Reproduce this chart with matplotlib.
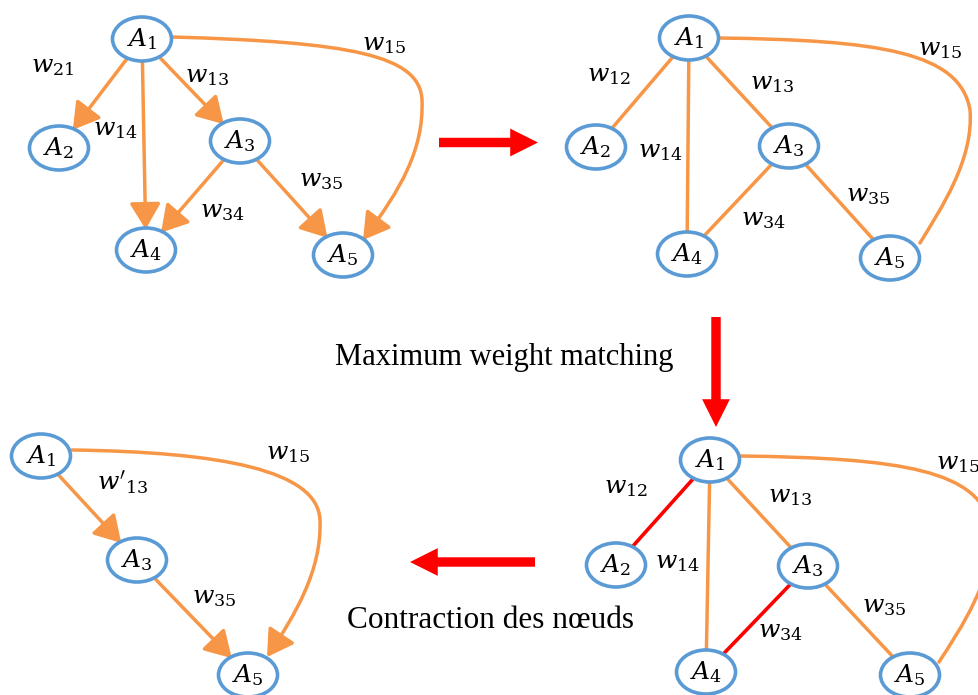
import matplotlib
matplotlib.use("Agg")
import matplotlib.pyplot as plt
from matplotlib.patches import Ellipse, FancyArrowPatch
from matplotlib.path import Path

plt.rcParams["mathtext.fontset"] = "dejavuserif"

# --- colours ---
nodeBlue = "#5B9BD5"
edgeOrange = "#F79646"
matchRed = "#FF0000"

# --- node positions (pixels, y downwards) ---
nodes_1 = {"1": (142, 39), "2": (59, 148), "3": (240, 141), "4": (146, 250), "5": (343, 255)}
nodes_2 = {"1": (689, 38), "2": (596, 147), "3": (789, 146), "4": (687, 254), "5": (890, 258)}
nodes_3 = {"1": (41, 456), "3": (137, 560), "5": (248, 675)}
nodes_4 = {"1": (710, 460), "2": (616, 565), "3": (808, 566), "4": (706, 672), "5": (910, 675)}

# --- straight edges ---
edges_1 = [("1", "2"), ("1", "3"), ("1", "4"), ("3", "4"), ("3", "5")]
edges_2 = [("1", "2"), ("1", "3"), ("1", "4"), ("3", "4"), ("3", "5")]
edges_3 = [("1", "3"), ("3", "5")]
edges_4 = [("1", "2"), ("1", "3"), ("1", "4"), ("3", "4"), ("3", "5")]
matched_4 = [("1", "2"), ("3", "4")]

# --- the long A1 - A5 edge, two cubic pieces each ---
curve_1 = [(172, 37), (350, 42), (420, 55), (422, 100), (424, 150), (400, 190), (363, 240)]
curve_2 = [(718, 38), (880, 40), (960, 52), (970, 110), (974, 160), (940, 210), (920, 243)]
curve_3 = [(72, 450), (220, 452), (318, 470), (320, 520), (322, 570), (295, 615), (267, 657)]
curve_4 = [(740, 456), (901, 458), (981, 470), (991, 528), (995, 578), (961, 628), (939, 662)]

# --- edge weight labels ---
labels_1 = [("21", (53, 66)), ("14", (115, 129)), ("13", (207, 76)),
            ("15", (384, 44)), ("35", (321, 180)), ("34", (222, 211))]
labels_2 = [("12", (609, 75)), ("14", (660, 151)), ("13", (772, 83)),
            ("15", (940, 49)), ("35", (868, 195)), ("34", (763, 219))]
labels_3 = [("15", (288, 453)), ("'13", (123, 482)), ("35", (214, 597))]
labels_4 = [("12", (626, 487)), ("14", (677, 562)), ("13", (790, 496)),
            ("15", (958, 463)), ("35", (884, 606)), ("34", (780, 631))]

# --- captions between the panels ---
captions = [("Maximum weight matching", (335, 365), 22), ("Contraction des nœuds", (347, 628), 22.5)]

# --- big red arrows (tail, tip) ---
bigArrows = [((439, 142.5), (538, 142.5)), ((716, 317), (716, 427)), ((535, 562), (410, 562))]


figure = plt.figure(figsize=(9.79, 6.95), dpi=100)
axes = figure.add_axes([0, 0, 1, 1])
axes.set_xlim(0, 979)
axes.set_ylim(695, 0)
axes.axis("off")

headStyle = "-|>,head_length=16,head_width=9.5"


def draw_panel(nodes, edges, curve, labels, directed, matched=()):
    patches = {}
    for key, (x, y) in nodes.items():
        ellipse = Ellipse((x, y), 59, 44, facecolor="white", edgecolor=nodeBlue,
                          linewidth=2.6, zorder=3)
        axes.add_patch(ellipse)
        patches[key] = ellipse
        axes.text(x, y, r"$A_{%s}$" % key, fontsize=18, ha="center", va="center", zorder=4)

    for a, b in edges:
        isRed = (a, b) in matched
        arrow = FancyArrowPatch(nodes[a], nodes[b], patchA=patches[a], patchB=patches[b],
                                shrinkA=0, shrinkB=0,
                                arrowstyle=headStyle if directed else "-",
                                mutation_scale=1,
                                color=matchRed if isRed else edgeOrange,
                                linewidth=2.6 if isRed else 2.5, zorder=2)
        axes.add_patch(arrow)

    codes = [Path.MOVETO] + [Path.CURVE4] * (len(curve) - 1)
    longEdge = FancyArrowPatch(path=Path(curve, codes),
                               arrowstyle=headStyle if directed else "-",
                               mutation_scale=1, color=edgeOrange, linewidth=2.5, zorder=2)
    axes.add_patch(longEdge)

    for sub, (x, y) in labels:
        if sub.startswith("'"):
            text = r"$w'_{%s}$" % sub[1:]
        else:
            text = r"$w_{%s}$" % sub
        axes.text(x, y, text, fontsize=18, ha="center", va="center", zorder=4, clip_on=True)


draw_panel(nodes_1, edges_1, curve_1, labels_1, directed=True)
draw_panel(nodes_2, edges_2, curve_2, labels_2, directed=False)
draw_panel(nodes_3, edges_3, curve_3, labels_3, directed=True)
draw_panel(nodes_4, edges_4, curve_4, labels_4, directed=False, matched=matched_4)

for tail, tip in bigArrows:
    axes.add_patch(FancyArrowPatch(tail, tip, shrinkA=0, shrinkB=0, mutation_scale=1,
                                   arrowstyle="simple,head_length=20,head_width=20,tail_width=6.8",
                                   color=matchRed, linewidth=0))

for caption, (x, y), size in captions:
    axes.text(x, y, caption, family="Liberation Serif", fontsize=size,
              ha="left", va="baseline")

figure.savefig("out.png", dpi=100)
